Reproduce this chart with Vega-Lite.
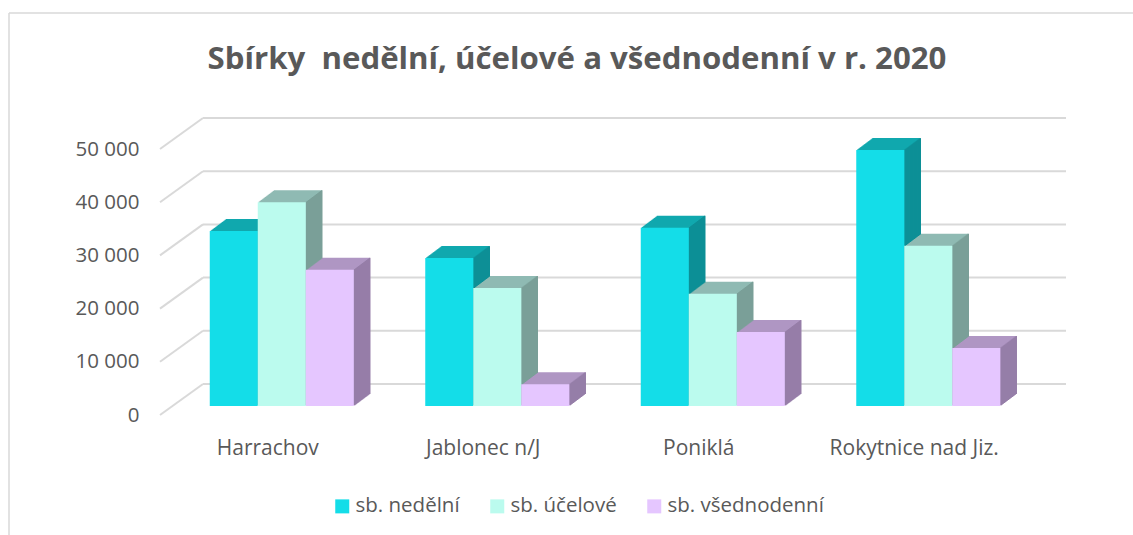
{"$schema":"https://vega.github.io/schema/vega-lite/v6.json","width":862,"height":266,"autosize":"none","padding":{"left":160,"top":149,"right":111,"bottom":120},"background":"white",
"title":{"text":"Sbírky\u00a0 nedělní, účelové a všednodenní v r. 2020","font":"Open Sans","fontSize":31.2,"fontWeight":"bold","color":"#595959","anchor":"middle","frame":"group","dx":-14,"offset":-63},
"config":{"view":{"stroke":null},"font":"Open Sans"},
"layer":[
{"data":{"values":[{}]},"mark":{"type":"rule","color":"#D9D9D9","strokeWidth":1.5,"clip":false},"encoding":{"x":{"value":-151},"x2":{"value":973},"y":{"value":-136}}},
{"data":{"values":[{}]},"mark":{"type":"rule","color":"#D9D9D9","strokeWidth":1.5,"clip":false},"encoding":{"x":{"value":-151},"y":{"value":-136},"y2":{"value":386}}},
{"data":{"values":[{"v":0},{"v":10000},{"v":20000},{"v":30000},{"v":40000},{"v":50000}]},"mark":{"type":"rule","yOffset":-31,"color":"#D9D9D9","strokeWidth":2},"encoding":{"x":{"value":43},"x2":{"value":906},"y":{"field":"v","type":"quantitative","scale":{"domain":[0,50000]},"axis":{"title":null,"values":[0,10000,20000,30000,40000,50000],"labelExpr":"replace(format(datum.value,','),/,/g,' ')","domain":false,"ticks":false,"grid":false,"labelFont":"Open Sans","labelFontSize":20.5,"labelColor":"#595959","labelPadding":21}}}},
{"data":{"values":[{"v":0},{"v":10000},{"v":20000},{"v":30000},{"v":40000},{"v":50000}]},"mark":{"type":"rule","y2Offset":-31,"color":"#D9D9D9","strokeWidth":2},"encoding":{"x":{"value":0},"x2":{"value":43},"y":{"field":"v","type":"quantitative"},"y2":{"field":"v"}}},
{"data":{"values":[{"m":"Harrachov","s":"sb. nedělní","v":32900},{"m":"Harrachov","s":"sb. účelové","v":38300},{"m":"Harrachov","s":"sb. všednodenní","v":25600},{"m":"Jablonec n/J","s":"sb. nedělní","v":27800},{"m":"Jablonec n/J","s":"sb. účelové","v":22200},{"m":"Jablonec n/J","s":"sb. všednodenní","v":4100},{"m":"Poniklá","s":"sb. nedělní","v":33500},{"m":"Poniklá","s":"sb. účelové","v":21100},{"m":"Poniklá","s":"sb. všednodenní","v":13900},{"m":"Rokytnice nad Jiz.","s":"sb. nedělní","v":48100},{"m":"Rokytnice nad Jiz.","s":"sb. účelové","v":30100},{"m":"Rokytnice nad Jiz.","s":"sb. všednodenní","v":10900}]},
"encoding":{"x":{"field":"m","type":"nominal","sort":null,"scale":{"paddingInner":0,"paddingOuter":0},"axis":{"title":null,"labelAngle":0,"domain":false,"ticks":false,"labelFont":"Open Sans","labelFontSize":21,"labelColor":"#595959","labelPadding":22}},"y":{"field":"v","type":"quantitative"},"y2":{"datum":0}},
"resolve":{"scale":{"color":"independent","xOffset":"independent"}},
"layer":[
{"mark":{"type":"bar","yOffset":-21,"y2Offset":-21},"encoding":{"xOffset":{"field":"s","type":"nominal","sort":null,"scale":{"range":[30,245.5],"paddingInner":0,"paddingOuter":0.745}},"color":{"field":"s","type":"nominal","sort":null,"legend":null,"scale":{"range":["#10A8AE","#8FBAB3","#AF96C3"]}}}},
{"mark":{"type":"rule","yOffset":-21,"y2Offset":-21,"strokeWidth":1.5},"encoding":{"xOffset":{"field":"s","type":"nominal","sort":null,"scale":{"range":[54,269.5],"paddingInner":0,"paddingOuter":0.745}},"color":{"field":"s","type":"nominal","sort":null,"legend":null,"scale":{"range":["#0D8F96","#7A9F98","#967EA8"]}}}},
{"mark":{"type":"bar","yOffset":-20.25,"y2Offset":-20.25},"encoding":{"xOffset":{"field":"s","type":"nominal","sort":null,"scale":{"range":[29,244.5],"paddingInner":0,"paddingOuter":0.745}},"color":{"field":"s","type":"nominal","sort":null,"legend":null,"scale":{"range":["#10A8AE","#8FBAB3","#AF96C3"]}}}},
{"mark":{"type":"rule","yOffset":-20.25,"y2Offset":-20.25,"strokeWidth":1.5},"encoding":{"xOffset":{"field":"s","type":"nominal","sort":null,"scale":{"range":[53,268.5],"paddingInner":0,"paddingOuter":0.745}},"color":{"field":"s","type":"nominal","sort":null,"legend":null,"scale":{"range":["#0D8F96","#7A9F98","#967EA8"]}}}},
{"mark":{"type":"bar","yOffset":-19.5,"y2Offset":-19.5},"encoding":{"xOffset":{"field":"s","type":"nominal","sort":null,"scale":{"range":[28,243.5],"paddingInner":0,"paddingOuter":0.745}},"color":{"field":"s","type":"nominal","sort":null,"legend":null,"scale":{"range":["#10A8AE","#8FBAB3","#AF96C3"]}}}},
{"mark":{"type":"rule","yOffset":-19.5,"y2Offset":-19.5,"strokeWidth":1.5},"encoding":{"xOffset":{"field":"s","type":"nominal","sort":null,"scale":{"range":[52,267.5],"paddingInner":0,"paddingOuter":0.745}},"color":{"field":"s","type":"nominal","sort":null,"legend":null,"scale":{"range":["#0D8F96","#7A9F98","#967EA8"]}}}},
{"mark":{"type":"bar","yOffset":-18.75,"y2Offset":-18.75},"encoding":{"xOffset":{"field":"s","type":"nominal","sort":null,"scale":{"range":[27,242.5],"paddingInner":0,"paddingOuter":0.745}},"color":{"field":"s","type":"nominal","sort":null,"legend":null,"scale":{"range":["#10A8AE","#8FBAB3","#AF96C3"]}}}},
{"mark":{"type":"rule","yOffset":-18.75,"y2Offset":-18.75,"strokeWidth":1.5},"encoding":{"xOffset":{"field":"s","type":"nominal","sort":null,"scale":{"range":[51,266.5],"paddingInner":0,"paddingOuter":0.745}},"color":{"field":"s","type":"nominal","sort":null,"legend":null,"scale":{"range":["#0D8F96","#7A9F98","#967EA8"]}}}},
{"mark":{"type":"bar","yOffset":-18,"y2Offset":-18},"encoding":{"xOffset":{"field":"s","type":"nominal","sort":null,"scale":{"range":[26,241.5],"paddingInner":0,"paddingOuter":0.745}},"color":{"field":"s","type":"nominal","sort":null,"legend":null,"scale":{"range":["#10A8AE","#8FBAB3","#AF96C3"]}}}},
{"mark":{"type":"rule","yOffset":-18,"y2Offset":-18,"strokeWidth":1.5},"encoding":{"xOffset":{"field":"s","type":"nominal","sort":null,"scale":{"range":[50,265.5],"paddingInner":0,"paddingOuter":0.745}},"color":{"field":"s","type":"nominal","sort":null,"legend":null,"scale":{"range":["#0D8F96","#7A9F98","#967EA8"]}}}},
{"mark":{"type":"bar","yOffset":-17.25,"y2Offset":-17.25},"encoding":{"xOffset":{"field":"s","type":"nominal","sort":null,"scale":{"range":[25,240.5],"paddingInner":0,"paddingOuter":0.745}},"color":{"field":"s","type":"nominal","sort":null,"legend":null,"scale":{"range":["#10A8AE","#8FBAB3","#AF96C3"]}}}},
{"mark":{"type":"rule","yOffset":-17.25,"y2Offset":-17.25,"strokeWidth":1.5},"encoding":{"xOffset":{"field":"s","type":"nominal","sort":null,"scale":{"range":[49,264.5],"paddingInner":0,"paddingOuter":0.745}},"color":{"field":"s","type":"nominal","sort":null,"legend":null,"scale":{"range":["#0D8F96","#7A9F98","#967EA8"]}}}},
{"mark":{"type":"bar","yOffset":-16.5,"y2Offset":-16.5},"encoding":{"xOffset":{"field":"s","type":"nominal","sort":null,"scale":{"range":[24,239.5],"paddingInner":0,"paddingOuter":0.745}},"color":{"field":"s","type":"nominal","sort":null,"legend":null,"scale":{"range":["#10A8AE","#8FBAB3","#AF96C3"]}}}},
{"mark":{"type":"rule","yOffset":-16.5,"y2Offset":-16.5,"strokeWidth":1.5},"encoding":{"xOffset":{"field":"s","type":"nominal","sort":null,"scale":{"range":[48,263.5],"paddingInner":0,"paddingOuter":0.745}},"color":{"field":"s","type":"nominal","sort":null,"legend":null,"scale":{"range":["#0D8F96","#7A9F98","#967EA8"]}}}},
{"mark":{"type":"bar","yOffset":-15.75,"y2Offset":-15.75},"encoding":{"xOffset":{"field":"s","type":"nominal","sort":null,"scale":{"range":[23,238.5],"paddingInner":0,"paddingOuter":0.745}},"color":{"field":"s","type":"nominal","sort":null,"legend":null,"scale":{"range":["#10A8AE","#8FBAB3","#AF96C3"]}}}},
{"mark":{"type":"rule","yOffset":-15.75,"y2Offset":-15.75,"strokeWidth":1.5},"encoding":{"xOffset":{"field":"s","type":"nominal","sort":null,"scale":{"range":[47,262.5],"paddingInner":0,"paddingOuter":0.745}},"color":{"field":"s","type":"nominal","sort":null,"legend":null,"scale":{"range":["#0D8F96","#7A9F98","#967EA8"]}}}},
{"mark":{"type":"bar","yOffset":-15,"y2Offset":-15},"encoding":{"xOffset":{"field":"s","type":"nominal","sort":null,"scale":{"range":[22,237.5],"paddingInner":0,"paddingOuter":0.745}},"color":{"field":"s","type":"nominal","sort":null,"legend":null,"scale":{"range":["#10A8AE","#8FBAB3","#AF96C3"]}}}},
{"mark":{"type":"rule","yOffset":-15,"y2Offset":-15,"strokeWidth":1.5},"encoding":{"xOffset":{"field":"s","type":"nominal","sort":null,"scale":{"range":[46,261.5],"paddingInner":0,"paddingOuter":0.745}},"color":{"field":"s","type":"nominal","sort":null,"legend":null,"scale":{"range":["#0D8F96","#7A9F98","#967EA8"]}}}},
{"mark":{"type":"bar","yOffset":-14.25,"y2Offset":-14.25},"encoding":{"xOffset":{"field":"s","type":"nominal","sort":null,"scale":{"range":[21,236.5],"paddingInner":0,"paddingOuter":0.745}},"color":{"field":"s","type":"nominal","sort":null,"legend":null,"scale":{"range":["#10A8AE","#8FBAB3","#AF96C3"]}}}},
{"mark":{"type":"rule","yOffset":-14.25,"y2Offset":-14.25,"strokeWidth":1.5},"encoding":{"xOffset":{"field":"s","type":"nominal","sort":null,"scale":{"range":[45,260.5],"paddingInner":0,"paddingOuter":0.745}},"color":{"field":"s","type":"nominal","sort":null,"legend":null,"scale":{"range":["#0D8F96","#7A9F98","#967EA8"]}}}},
{"mark":{"type":"bar","yOffset":-13.5,"y2Offset":-13.5},"encoding":{"xOffset":{"field":"s","type":"nominal","sort":null,"scale":{"range":[20,235.5],"paddingInner":0,"paddingOuter":0.745}},"color":{"field":"s","type":"nominal","sort":null,"legend":null,"scale":{"range":["#10A8AE","#8FBAB3","#AF96C3"]}}}},
{"mark":{"type":"rule","yOffset":-13.5,"y2Offset":-13.5,"strokeWidth":1.5},"encoding":{"xOffset":{"field":"s","type":"nominal","sort":null,"scale":{"range":[44,259.5],"paddingInner":0,"paddingOuter":0.745}},"color":{"field":"s","type":"nominal","sort":null,"legend":null,"scale":{"range":["#0D8F96","#7A9F98","#967EA8"]}}}},
{"mark":{"type":"bar","yOffset":-12.75,"y2Offset":-12.75},"encoding":{"xOffset":{"field":"s","type":"nominal","sort":null,"scale":{"range":[19,234.5],"paddingInner":0,"paddingOuter":0.745}},"color":{"field":"s","type":"nominal","sort":null,"legend":null,"scale":{"range":["#10A8AE","#8FBAB3","#AF96C3"]}}}},
{"mark":{"type":"rule","yOffset":-12.75,"y2Offset":-12.75,"strokeWidth":1.5},"encoding":{"xOffset":{"field":"s","type":"nominal","sort":null,"scale":{"range":[43,258.5],"paddingInner":0,"paddingOuter":0.745}},"color":{"field":"s","type":"nominal","sort":null,"legend":null,"scale":{"range":["#0D8F96","#7A9F98","#967EA8"]}}}},
{"mark":{"type":"bar","yOffset":-12,"y2Offset":-12},"encoding":{"xOffset":{"field":"s","type":"nominal","sort":null,"scale":{"range":[18,233.5],"paddingInner":0,"paddingOuter":0.745}},"color":{"field":"s","type":"nominal","sort":null,"legend":null,"scale":{"range":["#10A8AE","#8FBAB3","#AF96C3"]}}}},
{"mark":{"type":"rule","yOffset":-12,"y2Offset":-12,"strokeWidth":1.5},"encoding":{"xOffset":{"field":"s","type":"nominal","sort":null,"scale":{"range":[42,257.5],"paddingInner":0,"paddingOuter":0.745}},"color":{"field":"s","type":"nominal","sort":null,"legend":null,"scale":{"range":["#0D8F96","#7A9F98","#967EA8"]}}}},
{"mark":{"type":"bar","yOffset":-11.25,"y2Offset":-11.25},"encoding":{"xOffset":{"field":"s","type":"nominal","sort":null,"scale":{"range":[17,232.5],"paddingInner":0,"paddingOuter":0.745}},"color":{"field":"s","type":"nominal","sort":null,"legend":null,"scale":{"range":["#10A8AE","#8FBAB3","#AF96C3"]}}}},
{"mark":{"type":"rule","yOffset":-11.25,"y2Offset":-11.25,"strokeWidth":1.5},"encoding":{"xOffset":{"field":"s","type":"nominal","sort":null,"scale":{"range":[41,256.5],"paddingInner":0,"paddingOuter":0.745}},"color":{"field":"s","type":"nominal","sort":null,"legend":null,"scale":{"range":["#0D8F96","#7A9F98","#967EA8"]}}}},
{"mark":{"type":"bar","yOffset":-10.5,"y2Offset":-10.5},"encoding":{"xOffset":{"field":"s","type":"nominal","sort":null,"scale":{"range":[16,231.5],"paddingInner":0,"paddingOuter":0.745}},"color":{"field":"s","type":"nominal","sort":null,"legend":null,"scale":{"range":["#10A8AE","#8FBAB3","#AF96C3"]}}}},
{"mark":{"type":"rule","yOffset":-10.5,"y2Offset":-10.5,"strokeWidth":1.5},"encoding":{"xOffset":{"field":"s","type":"nominal","sort":null,"scale":{"range":[40,255.5],"paddingInner":0,"paddingOuter":0.745}},"color":{"field":"s","type":"nominal","sort":null,"legend":null,"scale":{"range":["#0D8F96","#7A9F98","#967EA8"]}}}},
{"mark":{"type":"bar","yOffset":-9.75,"y2Offset":-9.75},"encoding":{"xOffset":{"field":"s","type":"nominal","sort":null,"scale":{"range":[15,230.5],"paddingInner":0,"paddingOuter":0.745}},"color":{"field":"s","type":"nominal","sort":null,"legend":null,"scale":{"range":["#10A8AE","#8FBAB3","#AF96C3"]}}}},
{"mark":{"type":"rule","yOffset":-9.75,"y2Offset":-9.75,"strokeWidth":1.5},"encoding":{"xOffset":{"field":"s","type":"nominal","sort":null,"scale":{"range":[39,254.5],"paddingInner":0,"paddingOuter":0.745}},"color":{"field":"s","type":"nominal","sort":null,"legend":null,"scale":{"range":["#0D8F96","#7A9F98","#967EA8"]}}}},
{"mark":{"type":"bar","yOffset":-9,"y2Offset":-9},"encoding":{"xOffset":{"field":"s","type":"nominal","sort":null,"scale":{"range":[14,229.5],"paddingInner":0,"paddingOuter":0.745}},"color":{"field":"s","type":"nominal","sort":null,"title":null,"scale":{"range":["#14DDE8","#BBFBEE","#E5C6FF"]},"legend":{"orient":"none","legendX":172,"legendY":347,"direction":"horizontal","columns":3,"symbolType":"square","symbolSize":196,"symbolStrokeWidth":0,"symbolOpacity":1,"labelFont":"Open Sans","labelFontSize":20.5,"labelLimit":300,"labelColor":"#595959","labelOffset":3,"columnPadding":27}}}}
]}
]}
